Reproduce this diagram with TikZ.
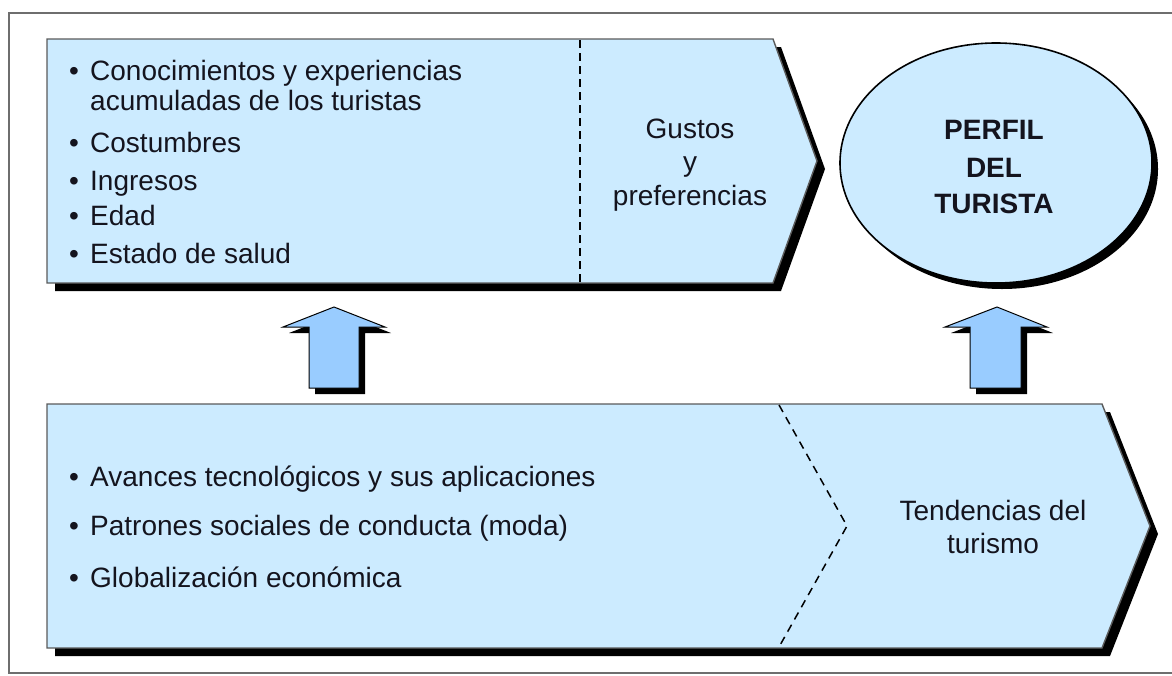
\documentclass[tikz,border=0pt]{standalone}
\usepackage{fontspec}
\setmainfont{Liberation Sans}
\begin{document}
\begin{tikzpicture}[x=1pt,y=-1pt,
  boxfill/.style={fill=boxblue,draw=boxline,line width=1.4pt,line join=miter},
  shadowfill/.style={fill=black},
  arrowfill/.style={fill=arrowblue,draw=black,line width=1pt,line join=miter},
  txt/.style={inner sep=0pt,anchor=base west,font=\fontsize{28}{33}\selectfont,text=txtcol},
  ctxt/.style={inner sep=0pt,anchor=base,font=\fontsize{28}{33}\selectfont,text=txtcol},
  btxt/.style={inner sep=0pt,anchor=base,font=\fontsize{28}{33}\selectfont\bfseries,text=txtcol}]
\definecolor{boxblue}{RGB}{204,235,255}
\definecolor{arrowblue}{RGB}{153,204,255}
\definecolor{boxline}{RGB}{90,90,90}
\definecolor{framecol}{RGB}{110,110,110}
\definecolor{txtcol}{RGB}{20,20,30}
\useasboundingbox (0,0) rectangle (1172,675);
% outer frame (right side lies beyond the picture)
\draw[framecol,line width=2pt] (1190,13) -- (9,13) -- (9,673) -- (1190,673);
% top box
\fill[shadowfill,shift={(8,8)}] (47,39) -- (773,39) -- (817,161) -- (773,283) -- (47,283) -- cycle;
\path[boxfill] (47,39) -- (773,39) -- (817,161) -- (773,283) -- (47,283) -- cycle;
\draw[black,line width=2.6pt,dash pattern=on 8pt off 5pt] (580,40) -- (580,282);
% bottom box
\fill[shadowfill,shift={(8,8)}] (47,404) -- (1102,404) -- (1150,526) -- (1102,648) -- (47,648) -- cycle;
\path[boxfill] (47,404) -- (1102,404) -- (1150,526) -- (1102,648) -- (47,648) -- cycle;
\draw[black,line width=1.5pt,dash pattern=on 8pt off 6pt] (779,405) -- (847,526) -- (779,647);
% ellipse
\fill[shadowfill] (1002,169) ellipse [x radius=156,y radius=120];
\path[fill=boxblue,draw=black,line width=1.6pt] (996,163) ellipse [x radius=156,y radius=120];
% arrows
\fill[shadowfill,shift={(6,6)}] (334,307) -- (385,327) -- (359,327) -- (359,388) -- (309,388) -- (309,327) -- (283,327) -- cycle;
\path[arrowfill] (334,307) -- (385,327) -- (359,327) -- (359,388) -- (309,388) -- (309,327) -- (283,327) -- cycle;
\fill[shadowfill,shift={(6,6)}] (997,307) -- (1047,327) -- (1021,327) -- (1021,388) -- (970,388) -- (970,327) -- (945,327) -- cycle;
\path[arrowfill] (997,307) -- (1047,327) -- (1021,327) -- (1021,388) -- (970,388) -- (970,327) -- (945,327) -- cycle;
% top box texts
\node[txt] (b1) at (69,80) {•};
\node[txt] (t1) at (90,80) {Conocimientos y experiencias};
\node[txt] (t1b) at (90,110) {acumuladas de los turistas};
\node[txt] (b2) at (69,152) {•};
\node[txt] (t2) at (90,152) {Costumbres};
\node[txt] (b3) at (69,190) {•};
\node[txt] (t3) at (90,190) {Ingresos};
\node[txt] (b4) at (69,225) {•};
\node[txt] (t4) at (90,225) {Edad};
\node[txt] (b5) at (69,263) {•};
\node[txt] (t5) at (90,263) {Estado de salud};
\node[ctxt] (g1) at (690,138) {Gustos};
\node[ctxt] (g2) at (690,171.5) {y};
\node[ctxt] (g3) at (690,205) {preferencias};
% ellipse text
\node[btxt] (p1) at (994,139) {PERFIL};
\node[btxt] (p2) at (994,177) {DEL};
\node[btxt] (p3) at (994,213) {TURISTA};
% bottom box texts
\node[txt] (c1b) at (69,486) {•};
\node[txt] (c1) at (90,486) {Avances tecnológicos y sus aplicaciones};
\node[txt] (c2b) at (69,535) {•};
\node[txt] (c2) at (90,535) {Patrones sociales de conducta (moda)};
\node[txt] (c3b) at (69,587) {•};
\node[txt] (c3) at (90,587) {Globalización económica};
\node[ctxt] (d1) at (993,520) {Tendencias del};
\node[ctxt] (d2) at (993,553) {turismo};
\end{tikzpicture}
\end{document}
